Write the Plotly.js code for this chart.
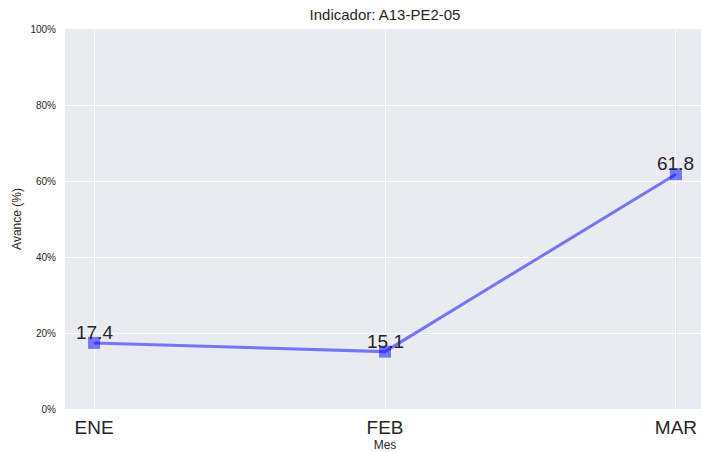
<!DOCTYPE html>
<html><head><meta charset="utf-8">
<script src="https://cdn.plot.ly/plotly-3.0.1.min.js"></script>
<style>html,body{margin:0;padding:0;overflow:hidden;background:#fff}</style>
</head><body>
<div id="chart"></div>
<script>
const months = ["ENE", "FEB", "MAR"];
const avance = [17.4, 15.1, 61.8];
const labels = ["17.4", "15.1", "61.8"];
const yTicks = [0, 20, 40, 60, 80, 100];
const yTickText = ["0%", "20%", "40%", "60%", "80%", "100%"];

const FONT = "Liberation Sans, Arial, Helvetica, sans-serif";

const trace = {
  x: months,
  y: avance,
  mode: "lines+markers",
  line: {color: "rgba(0,0,255,0.5)", width: 3},
  marker: {symbol: "square", size: 12, color: "rgba(0,0,255,0.5)"},
  cliponaxis: false,
  hoverinfo: "none"
};

const annotations = months.map((m, i) => ({
  x: m, y: avance[i], xref: "x", yref: "y",
  text: labels[i], showarrow: false,
  xanchor: "center", yanchor: "bottom", yshift: -2,
  font: {family: FONT, size: 19, color: "#262626"}
}));

const layout = {
  width: 705, height: 452,
  margin: {l: 65, r: 0, t: 29, b: 43},
  paper_bgcolor: "#ffffff",
  plot_bgcolor: "#EAEAF2",
  showlegend: false,
  font: {family: FONT, color: "#262626"},
  annotations: annotations,
  title: {text: "Indicador: A13-PE2-05", font: {family: FONT, size: 15, color: "#262626"}, xref: "paper", x: 0.5, xanchor: "center", yref: "container", y: 0.967, yanchor: "middle"},
  xaxis: {
    type: "category",
    range: [-0.1, 2.1],
    showgrid: true, gridcolor: "#ffffff", gridwidth: 1,
    zeroline: false, showline: false,
    ticks: "outside", ticklen: 1, tickcolor: "rgba(0,0,0,0)",
    tickfont: {family: FONT, size: 19, color: "#262626"},
    title: {text: "Mes", font: {family: FONT, size: 12, color: "#262626"}, standoff: 9}
  },
  yaxis: {
    range: [0, 100],
    tickvals: yTicks, ticktext: yTickText,
    showgrid: true, gridcolor: "#ffffff", gridwidth: 1,
    zeroline: false, showline: false,
    ticks: "outside", ticklen: 6, tickcolor: "rgba(0,0,0,0)",
    tickfont: {family: FONT, size: 10, color: "#262626"},
    title: {text: "Avance (%)", font: {family: FONT, size: 12, color: "#262626"}, standoff: 6}
  }
};

Plotly.newPlot("chart", [trace], layout, {displayModeBar: false, staticPlot: true});
</script>
</body></html>
